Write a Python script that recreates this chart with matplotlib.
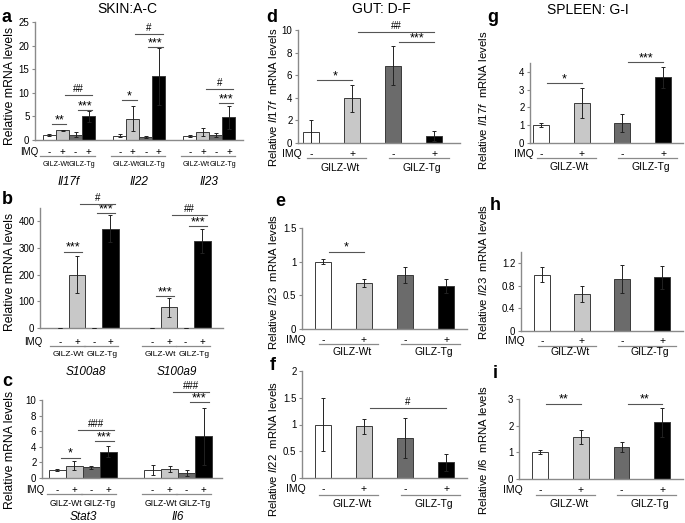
import matplotlib
matplotlib.use("Agg")
import matplotlib.pyplot as plt
from matplotlib.transforms import blended_transform_factory

plt.rcParams['font.family'] = ['Liberation Sans', 'DejaVu Sans']
plt.rcParams['mathtext.fontset'] = 'custom'
plt.rcParams['mathtext.it'] = 'Liberation Sans:italic'
plt.rcParams['mathtext.rm'] = 'Liberation Sans'

# ===== Data =====
bar_colors = ['#ffffff', '#c8c8c8', '#6b6b6b', '#000000']
imq = ['-', '+', '-', '+']
strains = ['GILZ-Wt', 'GILZ-Tg']

# SKIN (a-c): genes, means, errors
a_genes = ['Il17f', 'Il22', 'Il23']
a_vals = [[1.0, 2.05, 1.15, 5.0], [0.95, 4.5, 0.6, 13.5], [0.85, 1.7, 1.05, 4.8]]
a_errs = [[0.25, 0.15, 0.55, 1.1], [0.3, 2.6, 0.15, 6.0], [0.2, 0.85, 0.4, 2.4]]
a_sig = [[(0, 1, 3.4, '**'), (2, 3, 6.3, '***'), (1, 3, 9.5, '##')],
         [(0, 1, 8.45, '*'), (2, 3, 19.7, '***'), (1, 3, 22.5, '#')],
         [(2, 3, 7.8, '***'), (1, 3, 10.8, '#')]]

b_genes = ['S100a8', 'S100a9']
b_vals = [[1, 200, 1, 373], [1, 77, 1, 325]]
b_errs = [[0, 70, 0, 50], [0, 35, 0, 45]]
b_sig = [[(0, 1, 286, '***'), (2, 3, 431, '***'), (1, 3, 466, '#')],
         [(0, 1, 120, '***'), (2, 3, 381, '***'), (1, 3, 422, '##')]]

c_genes = ['Stat3', 'Il6']
c_vals = [[1.0, 1.6, 1.4, 3.35], [1.0, 1.15, 0.65, 5.35]]
c_errs = [[0.1, 0.6, 0.2, 0.7], [0.65, 0.4, 0.35, 3.65]]
c_sig = [[(0, 1, 2.6, '*'), (2, 3, 4.7, '***'), (1, 3, 6.2, '###')],
         [(2, 3, 9.7, '***'), (1, 3, 11.0, '###')]]

# GUT (d-f)
d_vals = [1.0, 3.95, 6.85, 0.6]
d_errs = [1.05, 1.2, 1.75, 0.45]
d_sig = [(0, 1, 5.55, '*'), (2, 3, 8.9, '***'), (1, 3, 9.8, '##')]
e_vals = [1.0, 0.68, 0.8, 0.64]
e_errs = [0.04, 0.06, 0.12, 0.1]
e_sig = [(0, 1, 1.15, '*')]
f_vals = [1.0, 0.97, 0.75, 0.29]
f_errs = [0.5, 0.14, 0.38, 0.16]
f_sig = [(1, 3, 1.3, '#')]

# SPLEEN (g-i)
g_vals = [1.0, 2.25, 1.12, 3.7]
g_errs = [0.12, 0.85, 0.5, 0.6]
g_sig = [(0, 1, 3.35, '*'), (2, 3, 4.55, '***')]
h_vals = [1.0, 0.66, 0.92, 0.95]
h_errs = [0.13, 0.14, 0.25, 0.2]
h_sig = []
i_vals = [1.0, 1.58, 1.2, 2.12]
i_errs = [0.08, 0.25, 0.18, 0.55]
i_sig = [(0, 1, 2.83, '**'), (2, 3, 2.83, '**')]

# ===== Figure =====
W, H = 685, 523
fig = plt.figure(figsize=(W / 100, H / 100), dpi=100)
AX_GRAY = '#8a8a8a'
LINE_GRAY = '#555555'


def fy(ypx):
    return 1 - ypx / H


def make_axes(x0, ytop, x1, ybot, xlim, ylim, yticks, ylabels):
    ax = fig.add_axes([x0 / W, fy(ybot), (x1 - x0) / W, (ybot - ytop) / H])
    ax.set_xlim(xlim)
    ax.set_ylim(ylim)
    for s in ['top', 'right']:
        ax.spines[s].set_visible(False)
    for s in ['left', 'bottom']:
        ax.spines[s].set_color(AX_GRAY)
        ax.spines[s].set_linewidth(1.0)
    ax.set_xticks([])
    ax.set_yticks(yticks)
    ax.set_yticklabels(ylabels)
    ax.tick_params(axis='y', length=2.5, width=0.8, color=AX_GRAY, labelsize=7, pad=1.5)
    ax.patch.set_alpha(0)
    return ax


def draw_bars(ax, xs, vals, errs, width):
    ax.bar(xs, vals, width=width, color=bar_colors, edgecolor='#3a3a3a',
           linewidth=0.7, zorder=2)
    ax.errorbar(xs, vals, yerr=errs, fmt='none', ecolor='#222222',
                elinewidth=0.7, capsize=1.5, capthick=0.7, zorder=3)


def draw_sig(ax, xs, sig, d0, d1):
    for i, j, y, txt in sig:
        ax.plot([xs[i] + d0, xs[j] + d1], [y, y], color=LINE_GRAY, lw=0.8,
                clip_on=False, zorder=4)
        star = txt.startswith('*')
        ax.annotate(txt, ((xs[i] + d0 + xs[j] + d1) / 2, y),
                    xytext=(0, -1.5 if star else 0.8),
                    textcoords='offset points', ha='center', va='bottom',
                    fontsize=9 if star else 7, annotation_clip=False)


def x_labels(ax, xs, y_imq, y_line, y_gilz, l0, l1, toff, fs, lab_fs=None):
    tr = blended_transform_factory(ax.transData, fig.transFigure)
    if lab_fs is None:
        lab_fs = fs
    for k in range(4):
        ax.text(xs[k], fy(y_imq), imq[k], transform=tr, ha='center', va='center', fontsize=fs)
    for p in range(2):
        c0, c1 = xs[2 * p], xs[2 * p + 1]
        ax.plot([c0 + l0, c1 + l1], [fy(y_line), fy(y_line)], transform=tr,
                color=AX_GRAY, lw=0.9, clip_on=False)
        ax.text((c0 + c1) / 2 + toff, fy(y_gilz), strains[p], transform=tr,
                ha='center', va='center', fontsize=lab_fs)


def imq_label(x, y, fs):
    fig.text(x / W, fy(y), 'IMQ', ha='right', va='center', fontsize=fs)


def gene_label(ax, x, ypx, name):
    tr = blended_transform_factory(ax.transData, fig.transFigure)
    ax.text(x, fy(ypx), name, transform=tr, ha='center', va='center',
            fontsize=8.5, fontstyle='italic')


# ----- Panel a -----
ax = make_axes(35, 22, 243, 140, (-1.115, 14.88), (0, 25),
               [0, 5, 10, 15, 20, 25], ['0', '5', '10', '15', '20', '25'])
for g in range(3):
    xs = [g * 5.4 + k for k in range(4)]
    draw_bars(ax, xs, a_vals[g], a_errs[g], 1.0)
    draw_sig(ax, xs, a_sig[g], 0.2, 0.3)
    x_labels(ax, xs, 152, 156, 165, -0.7, 0.5, 0, 7, lab_fs=5.1)
    gene_label(ax, xs[0] + 1.5, 182, a_genes[g])
imq_label(38, 152, 7)
fig.text(10 / W, fy(86), 'Relative mRNA levels', rotation=90, ha='center', va='center', fontsize=8.8)

# ----- Panel b -----
ax = make_axes(40, 208, 223, 328, (-1.22, 9.74), (0, 450),
               [0, 100, 200, 300, 400], ['0', '100', '200', '300', '400'])
for g in range(2):
    xs = [g * 5.5 + k for k in range(4)]
    draw_bars(ax, xs, b_vals[g], b_errs[g], 1.0)
    draw_sig(ax, xs, b_sig[g], 0.2, 0.3)
    x_labels(ax, xs, 342, 346, 354, -0.6, 0.45, 0, 7, lab_fs=6.0)
    gene_label(ax, xs[0] + 1.5, 372, b_genes[g])
imq_label(42, 342, 7)
fig.text(10 / W, fy(272), 'Relative mRNA levels', rotation=90, ha='center', va='center', fontsize=8.8)

# ----- Panel c -----
ax = make_axes(42, 400, 222, 478, (-0.91, 9.68), (0, 10),
               [0, 2, 4, 6, 8, 10], ['0', '2', '4', '6', '8', '10'])
for g in range(2):
    xs = [g * 5.6 + k for k in range(4)]
    draw_bars(ax, xs, c_vals[g], c_errs[g], 1.0)
    draw_sig(ax, xs, c_sig[g], 0.2, 0.3)
    x_labels(ax, xs, 490, 494, 503, -0.6, 0.45, 0, 7, lab_fs=6.2)
    gene_label(ax, xs[0] + 1.5, 517, c_genes[g])
imq_label(44, 490, 7)
fig.text(10 / W, fy(450), 'Relative mRNA levels', rotation=90, ha='center', va='center', fontsize=8.8)

# ----- GUT / SPLEEN single panels -----
xs4 = [0, 1, 2, 3]
single = [
    # box, xlim, ylim, ticks, labels, vals, errs, sig, rows, ylabel x, ylabel y, gene
    ((298, 30, 460, 143), (-0.32, 3.63), (0, 10), [0, 2, 4, 6, 8, 10],
     ['0', '2', '4', '6', '8', '10'], d_vals, d_errs, d_sig, (154, 158, 168), 273, 97, 'Il17f'),
    ((302, 228, 467, 329), (-0.51, 3.51), (0, 1.5), [0, 0.5, 1, 1.5],
     ['0', '0.5', '1', '1.5'], e_vals, e_errs, e_sig, (340, 344, 352), 273, 282, 'Il23'),
    ((302, 371, 467, 478), (-0.51, 3.51), (0, 2), [0, 0.5, 1, 1.5, 2],
     ['0', '0.5', '1', '1.5', '2'], f_vals, f_errs, f_sig, (489, 495, 504), 273, 449, 'Il22'),
    ((530, 63, 683, 143), (-0.27, 3.49), (0, 4.5), [0, 1, 2, 3, 4],
     ['0', '1', '2', '3', '4'], g_vals, g_errs, g_sig, (154, 158, 167), 483, 100, 'Il17f'),
    ((521, 252, 683, 331), (-0.52, 3.52), (0, 1.4), [0, 0.4, 0.8, 1.2],
     ['0', '0.4', '0.8', '1.2'], h_vals, h_errs, h_sig, (341, 346, 352), 483, 272, 'Il23'),
    ((519, 399, 683, 479), (-0.52, 3.51), (0, 3), [0, 1, 2, 3],
     ['0', '1', '2', '3'], i_vals, i_errs, i_sig, (490, 495, 504), 483, 450, 'Il6'),
]
for box, xl, yl, yt, ytl, vals, errs, sig, rows, lx, ly, gene in single:
    ax = make_axes(box[0], box[1], box[2], box[3], xl, yl, yt, ytl)
    draw_bars(ax, xs4, vals, errs, 0.39)
    draw_sig(ax, xs4, sig, 0.15, 0.0)
    x_labels(ax, xs4, rows[0], rows[1], rows[2], -0.1, 0.35, 0.2, 7.5)
    imq_label(box[0] + 4, rows[0], 7.5)
    fig.text(lx / W, fy(ly), r'Relative $\mathit{' + gene + r'}$  mRNA levels', rotation=90,
             ha='center', va='center', fontsize=8.2)

# ===== Titles and panel letters =====
fig.text(127 / W, fy(9), 'SKIN:A-C', ha='center', va='center', fontsize=10)
fig.text(381 / W, fy(9), 'GUT: D-F', ha='center', va='center', fontsize=10)
fig.text(588 / W, fy(10), 'SPLEEN: G-I', ha='center', va='center', fontsize=10)
letters = [('a', 6, 17), ('b', 7, 199), ('c', 7, 382), ('d', 272, 17), ('e', 280, 202),
           ('f', 273, 366), ('g', 493, 17), ('h', 495, 205), ('i', 495, 373)]
for t, x, y in letters:
    fig.text(x / W, fy(y), t, ha='center', va='center', fontsize=13, fontweight='bold')

fig.savefig('out.png', dpi=100)
